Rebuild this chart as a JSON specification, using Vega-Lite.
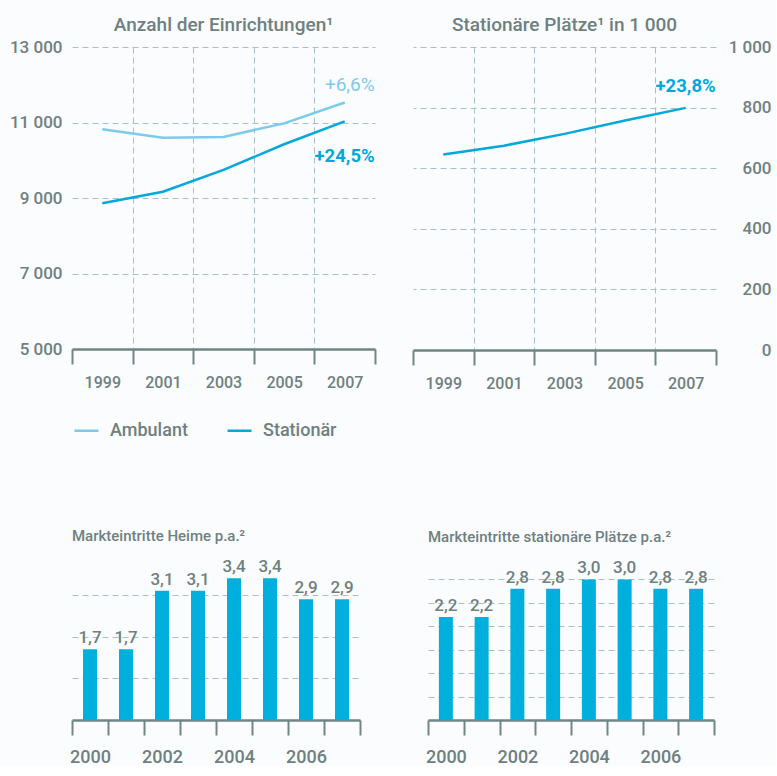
{
  "$schema": "https://vega.github.io/schema/vega-lite/v6.json",
  "background": "#fbfcfd",
  "padding": {"left": 9, "top": 16, "right": 0, "bottom": 0},
  "config": {
    "locale": {"number": {"decimal": ",", "thousands": " ", "grouping": [3], "currency": ["", " €"]}},
    "view": {"stroke": null},
    "font": "Roboto",
    "axis": {"labelFont": "Roboto", "labelFontWeight": 500, "labelColor": "#6e8080", "labelFontSize": 17},
    "title": {"font": "Roboto", "fontWeight": 500, "color": "#6e8080"},
    "text": {"font": "Roboto"}
  },
  "datasets": {
    "einr": [
      {"year": "1999", "typ": "Ambulant", "value": 10820},
      {"year": "2001", "typ": "Ambulant", "value": 10594},
      {"year": "2003", "typ": "Ambulant", "value": 10619},
      {"year": "2005", "typ": "Ambulant", "value": 10977},
      {"year": "2007", "typ": "Ambulant", "value": 11529},
      {"year": "1999", "typ": "Stationär", "value": 8859},
      {"year": "2001", "typ": "Stationär", "value": 9165},
      {"year": "2003", "typ": "Stationär", "value": 9743},
      {"year": "2005", "typ": "Stationär", "value": 10424},
      {"year": "2007", "typ": "Stationär", "value": 11029}
    ],
    "einr_lab": [
      {"year": "2007", "typ": "Ambulant", "value": 12000, "label": "+6,6%"},
      {"year": "2007", "typ": "Stationär", "value": 10100, "label": "+24,5%"}
    ],
    "plaetze": [
      {"year": "1999", "value": 645.5},
      {"year": "2001", "value": 674.3},
      {"year": "2003", "value": 713.2},
      {"year": "2005", "value": 757.2},
      {"year": "2007", "value": 799.1}
    ],
    "plaetze_lab": [
      {"year": "2007", "value": 870, "label": "+23,8%"}
    ],
    "heime": [
      {"year": "2000", "value": 1.7},
      {"year": "2001", "value": 1.7},
      {"year": "2002", "value": 3.1},
      {"year": "2003", "value": 3.1},
      {"year": "2004", "value": 3.4},
      {"year": "2005", "value": 3.4},
      {"year": "2006", "value": 2.9},
      {"year": "2007", "value": 2.9}
    ],
    "statpl": [
      {"year": "2000", "value": 2.2},
      {"year": "2001", "value": 2.2},
      {"year": "2002", "value": 2.8},
      {"year": "2003", "value": 2.8},
      {"year": "2004", "value": 3.0},
      {"year": "2005", "value": 3.0},
      {"year": "2006", "value": 2.8},
      {"year": "2007", "value": 2.8}
    ]
  },
  "spacing": 138,
  "vconcat": [
    {
      "spacing": 36,
      "hconcat": [
        {
          "width": 303,
          "height": 302,
          "title": {"text": "Anzahl der Einrichtungen¹", "anchor": "middle", "frame": "group", "fontSize": 19, "baseline": "alphabetic", "offset": -12},
          "encoding": {
            "x": {"field": "year", "type": "ordinal", "scale": {"paddingInner": 0, "paddingOuter": 0},
              "axis": {"title": null, "labelAngle": 0, "tickBand": "extent", "domainColor": "#6f8686", "domainWidth": 2.5, "tickColor": "#6f8686", "tickWidth": 2, "tickSize": 15, "labelPadding": 10, "labelFontSize": 16, "grid": true, "gridColor": "#a6c1ca", "gridDash": [6, 4], "gridWidth": 1,
                "gridOpacity": {"condition": {"test": "datum.value == '2007' || datum.extra", "value": 0}, "value": 1}}},
            "y": {"field": "value", "type": "quantitative", "scale": {"domain": [5000, 13000], "nice": false, "zero": false},
              "axis": {"title": null, "values": [5000, 7000, 9000, 11000, 13000], "format": ",d", "domain": false, "ticks": false, "labelPadding": 10, "grid": true, "gridColor": "#a6c1ca", "gridDash": [6, 4], "minExtent": 60, "maxExtent": 60}}
          },
          "layer": [
            {
              "data": {"name": "einr"},
              "mark": {"type": "line", "strokeWidth": 2.5},
              "encoding": {
                "color": {"field": "typ", "type": "nominal", "scale": {"domain": ["Ambulant", "Stationär"], "range": ["#7dcbec", "#00a8dc"]},
                  "legend": {"orient": "none", "legendX": 1, "legendY": 370, "direction": "horizontal", "title": null, "symbolType": "stroke", "symbolStrokeWidth": 2.5, "symbolSize": 576, "labelFont": "Roboto", "labelFontSize": 18, "labelFontWeight": 500, "labelColor": "#6e8080", "columnPadding": 34, "labelOffset": 10, "padding": 0}}
              }
            },
            {
              "data": {"name": "einr_lab"},
              "transform": [{"filter": "datum.typ == 'Ambulant'"}],
              "mark": {"type": "text", "align": "right", "baseline": "middle", "dx": 30, "fontSize": 19, "fontWeight": 400, "color": "#7dcbec"},
              "encoding": {"text": {"field": "label"}}
            },
            {
              "data": {"name": "einr_lab"},
              "transform": [{"filter": "datum.typ == 'Stationär'"}],
              "mark": {"type": "text", "align": "right", "baseline": "middle", "dx": 30, "fontSize": 18.5, "fontWeight": 700, "color": "#00a8dc"},
              "encoding": {"text": {"field": "label"}}
            }
          ]
        },
        {
          "width": 303,
          "height": 303,
          "title": {"text": "Stationäre Plätze¹ in 1 000", "anchor": "middle", "frame": "group", "fontSize": 19, "baseline": "alphabetic", "offset": -12},
          "encoding": {
            "x": {"field": "year", "type": "ordinal", "scale": {"paddingInner": 0, "paddingOuter": 0},
              "axis": {"title": null, "labelAngle": 0, "tickBand": "extent", "domainColor": "#6f8686", "domainWidth": 2.5, "tickColor": "#6f8686", "tickWidth": 2, "tickSize": 15, "labelPadding": 10, "labelFontSize": 16, "grid": true, "gridColor": "#a6c1ca", "gridDash": [6, 4], "gridWidth": 1,
                "gridOpacity": {"condition": {"test": "datum.value == '2007' || datum.extra", "value": 0}, "value": 1}}},
            "y": {"field": "value", "type": "quantitative", "scale": {"domain": [0, 1000], "nice": false},
              "axis": {"title": null, "orient": "right", "values": [0, 200, 400, 600, 800, 1000], "format": ",d", "domain": false, "ticks": false, "labelAlign": "right", "labelPadding": 55, "grid": true, "gridColor": "#a6c1ca", "gridDash": [6, 4], "minExtent": 60, "maxExtent": 60}}
          },
          "layer": [
            {
              "data": {"name": "plaetze"},
              "mark": {"type": "line", "strokeWidth": 2.5, "color": "#00a8dc"}
            },
            {
              "data": {"name": "plaetze_lab"},
              "mark": {"type": "text", "align": "right", "baseline": "middle", "dx": 30, "fontSize": 18.5, "fontWeight": 700, "color": "#00a8dc"},
              "encoding": {"text": {"field": "label"}}
            }
          ]
        }
      ]
    },
    {
      "spacing": 64,
      "hconcat": [
        {
          "width": 288,
          "height": 150,
          "title": {"text": "Markteintritte Heime p.a.²", "anchor": "start", "frame": "group", "fontSize": 15, "baseline": "alphabetic", "offset": 2},
          "data": {"name": "heime"},
          "encoding": {
            "x": {"field": "year", "type": "ordinal", "scale": {"paddingInner": 0, "paddingOuter": 0},
              "axis": {"title": null, "labelAngle": 0, "tickBand": "extent", "domainColor": "#6f8686", "domainWidth": 2.5, "tickColor": "#6f8686", "tickWidth": 2, "tickSize": 15, "labelPadding": 13, "labelFontSize": 18, "grid": false,
                "labelExpr": "toNumber(datum.value) % 2 == 0 ? datum.label : ''"}},
            "y": {"field": "value", "type": "quantitative", "scale": {"domain": [0, 3.6], "nice": false},
              "axis": {"title": null, "values": [1, 2, 3], "labels": false, "ticks": false, "domain": false, "grid": true, "gridColor": "#a6c1ca", "gridDash": [6, 4], "minExtent": 60, "maxExtent": 60}}
          },
          "layer": [
            {"mark": {"type": "bar", "size": 14, "color": "#00afdb"}},
            {"mark": {"type": "text", "baseline": "bottom", "dy": -2, "fontSize": 17, "fontWeight": 500, "color": "#6e8080"},
              "encoding": {"text": {"field": "value", "type": "quantitative", "format": ".1f"}}}
          ]
        },
        {
          "width": 286,
          "height": 150,
          "title": {"text": "Markteintritte stationäre Plätze p.a.²", "anchor": "start", "frame": "group", "fontSize": 15, "baseline": "alphabetic", "offset": 2},
          "data": {"name": "statpl"},
          "encoding": {
            "x": {"field": "year", "type": "ordinal", "scale": {"paddingInner": 0, "paddingOuter": 0},
              "axis": {"title": null, "labelAngle": 0, "tickBand": "extent", "domainColor": "#6f8686", "domainWidth": 2.5, "tickColor": "#6f8686", "tickWidth": 2, "tickSize": 15, "labelPadding": 13, "labelFontSize": 18, "grid": false,
                "labelExpr": "toNumber(datum.value) % 2 == 0 ? datum.label : ''"}},
            "y": {"field": "value", "type": "quantitative", "scale": {"domain": [0, 3.2], "nice": false},
              "axis": {"title": null, "values": [0.5, 1, 1.5, 2, 2.5, 3], "labels": false, "ticks": false, "domain": false, "grid": true, "gridColor": "#a6c1ca", "gridDash": [6, 4], "minExtent": 0, "maxExtent": 0}}
          },
          "layer": [
            {"mark": {"type": "bar", "size": 14, "color": "#00afdb"}},
            {"mark": {"type": "text", "baseline": "bottom", "dy": -2, "fontSize": 17, "fontWeight": 500, "color": "#6e8080"},
              "encoding": {"text": {"field": "value", "type": "quantitative", "format": ".1f"}}}
          ]
        }
      ]
    }
  ]
}
